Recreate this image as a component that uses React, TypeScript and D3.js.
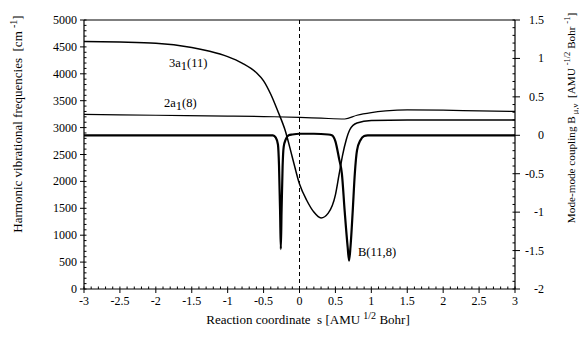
import React from "react";
import * as d3 from "d3";

const W = 579, H = 343;
const M = { left: 84, right: 515, top: 20, bottom: 289 };

const xTicks = [-3, -2.5, -2, -1.5, -1, -0.5, 0, 0.5, 1, 1.5, 2, 2.5, 3];
const yLeftTicks = [0, 500, 1000, 1500, 2000, 2500, 3000, 3500, 4000, 4500, 5000];
const yRightTicks = [-2, -1.5, -1, -0.5, 0, 0.5, 1, 1.5];

// 3a1(11) frequency [cm-1]
const s3a1 = [-3, -2.5, -2, -1.5, -1.25, -1, -0.8, -0.6, -0.5, -0.4, -0.3, -0.2, -0.1, 0, 0.1, 0.2, 0.3, 0.4, 0.5, 0.55, 0.6, 0.65, 0.7, 0.8, 1.0, 1.5, 2, 2.5, 3];
const v3a1 = [4600, 4590, 4570, 4490, 4420, 4320, 4200, 4020, 3870, 3620, 3300, 2950, 2450, 1950, 1650, 1430, 1320, 1410, 1750, 2120, 2490, 2770, 2960, 3085, 3130, 3140, 3140, 3140, 3140];

// 2a1(8) frequency [cm-1]
const s2a1 = [-3, -2, -1, -0.5, 0, 0.3, 0.63, 0.8, 1.0, 1.2, 1.5, 2, 2.5, 3];
const v2a1 = [3245, 3230, 3215, 3205, 3190, 3175, 3160, 3230, 3280, 3310, 3330, 3325, 3310, 3300];

// B(11,8) coupling
const sB = [-3, -0.37, -0.33, -0.3, -0.285, -0.27, -0.26, -0.25, -0.235, -0.22, -0.19, -0.15, -0.1, 0, 0.2, 0.4, 0.45, 0.5, 0.55, 0.59, 0.63, 0.67, 0.69, 0.71, 0.74, 0.77, 0.8, 0.85, 0.9, 0.95, 3];
const vB = [0, 0, -0.03, -0.12, -0.4, -1.0, -1.48, -1.0, -0.4, -0.15, -0.05, 0, 0.01, 0.02, 0.02, 0.01, 0, -0.08, -0.3, -0.5, -1.0, -1.45, -1.63, -1.45, -1.0, -0.5, -0.2, -0.06, -0.01, 0, 0];

const TFONT = '"Liberation Serif", "Times New Roman", serif';

export default function App() {
  const x = d3.scaleLinear().domain([-3, 3]).range([M.left, M.right]);
  const yL = d3.scaleLinear().domain([0, 5000]).range([M.bottom, M.top]);
  const yR = d3.scaleLinear().domain([-2, 1.5]).range([M.bottom, M.top]);

  const lineL = d3.line<[number, number]>().x(d => x(d[0])).y(d => yL(d[1])).curve(d3.curveMonotoneX);
  const lineR = d3.line<[number, number]>().x(d => x(d[0])).y(d => yR(d[1])).curve(d3.curveMonotoneX);

  const d3a1 = lineL(s3a1.map((s, i) => [s, v3a1[i]] as [number, number])) || "";
  const d2a1 = lineL(s2a1.map((s, i) => [s, v2a1[i]] as [number, number])) || "";
  const dB = lineR(sB.map((s, i) => [s, vB[i]] as [number, number])) || "";

  const xMinor = d3.range(-3, 3.0001, 0.1).map(v => +v.toFixed(2));
  const yLMinor = d3.range(0, 5001, 100);
  const yRMinor = d3.range(-2, 1.5001, 0.1).map(v => +v.toFixed(2));

  const stroke = "#000";
  const ts: React.CSSProperties = { fontFamily: TFONT };

  return (
    <svg width={W} height={H} style={{ position: "absolute", left: 0, top: 0, background: "#fff", fontFamily: TFONT }}>
      <rect x={0} y={0} width={W} height={H} fill="#fff" />
      <line x1={M.left} x2={M.right} y1={M.top} y2={M.top} stroke={stroke} strokeWidth={1.2} />
      <line x1={M.left} x2={M.right} y1={M.bottom} y2={M.bottom} stroke={stroke} strokeWidth={1.2} />
      <line x1={M.left} x2={M.left} y1={M.top} y2={M.bottom} stroke={stroke} strokeWidth={1.2} />
      <line x1={M.right} x2={M.right} y1={M.top} y2={M.bottom} stroke={stroke} strokeWidth={1.2} />

      {xMinor.map((v, i) => (
        <line key={"xm" + i} x1={x(v)} x2={x(v)} y1={M.bottom} y2={M.bottom - 2.5} stroke={stroke} strokeWidth={1} />
      ))}
      {xTicks.map((v, i) => (
        <g key={"xt" + i}>
          <line x1={x(v)} x2={x(v)} y1={M.bottom} y2={M.bottom + 4} stroke={stroke} strokeWidth={1} />
          <text x={x(v)} y={M.bottom + 16} fontSize={12} textAnchor="middle" style={ts}>{String(v)}</text>
        </g>
      ))}

      {yLMinor.map((v, i) => (
        <line key={"ylm" + i} x1={M.left} x2={M.left + 2.5} y1={yL(v)} y2={yL(v)} stroke={stroke} strokeWidth={1} />
      ))}
      {yLeftTicks.map((v, i) => (
        <g key={"ylt" + i}>
          <line x1={M.left - 4} x2={M.left} y1={yL(v)} y2={yL(v)} stroke={stroke} strokeWidth={1} />
          <text x={M.left - 7} y={yL(v) + 4} fontSize={12} textAnchor="end" style={ts}>{String(v)}</text>
        </g>
      ))}

      {yRMinor.map((v, i) => (
        <line key={"yrm" + i} x1={M.right} x2={M.right - 2.5} y1={yR(v)} y2={yR(v)} stroke={stroke} strokeWidth={1} />
      ))}
      {yRightTicks.map((v, i) => (
        <g key={"yrt" + i}>
          <line x1={M.right} x2={M.right + 5} y1={yR(v)} y2={yR(v)} stroke={stroke} strokeWidth={1} />
          <text x={M.right + 29} y={yR(v) + 4} fontSize={12} textAnchor="end" style={ts}>{String(v)}</text>
        </g>
      ))}

      <line x1={x(0)} x2={x(0)} y1={M.top} y2={M.bottom} stroke={stroke} strokeWidth={1} strokeDasharray="4,3" />

      <path d={d2a1} fill="none" stroke={stroke} strokeWidth={1.2} />
      <path d={d3a1} fill="none" stroke={stroke} strokeWidth={1.5} />
      <path d={dB} fill="none" stroke={stroke} strokeWidth={2.2} strokeLinejoin="round" />

      <text x={169} y={67} fontSize={12.5} style={ts}>3a<tspan dy={3}>1</tspan><tspan dy={-3}>(11)</tspan></text>
      <text x={164} y={107} fontSize={12.5} style={ts}>2a<tspan dy={3}>1</tspan><tspan dy={-3}>(8)</tspan></text>
      <text x={358} y={256} fontSize={12.5} style={ts}>B(11,8)</text>

      <text x={308} y={324} fontSize={13} textAnchor="middle" style={ts}>
        Reaction coordinate{"\u00a0\u00a0"}s [AMU <tspan fontSize={10} dy={-5}>1/2</tspan><tspan dy={5}> Bohr]</tspan>
      </text>
      <text transform={`translate(22,124) rotate(-90)`} fontSize={13} textAnchor="middle" style={ts}>
        Harmonic vibrational frequencies{"\u00a0\u00a0"}[cm <tspan fontSize={10} dy={-5}>-1</tspan><tspan dy={5}>]</tspan>
      </text>
      <text transform={`translate(575,118) rotate(-90)`} fontSize={11.2} textAnchor="middle" style={ts}>
        Mode-mode coupling B<tspan fontSize={8.5} dy={3}>{"\u00a0"}μ,ν</tspan><tspan dy={-3}>{"\u00a0\u00a0"}[AMU </tspan><tspan fontSize={8.5} dy={-5}>-1/2</tspan><tspan dy={5}> Bohr </tspan><tspan fontSize={8.5} dy={-5}>-1</tspan><tspan dy={5}>]</tspan>
      </text>
    </svg>
  );
}
